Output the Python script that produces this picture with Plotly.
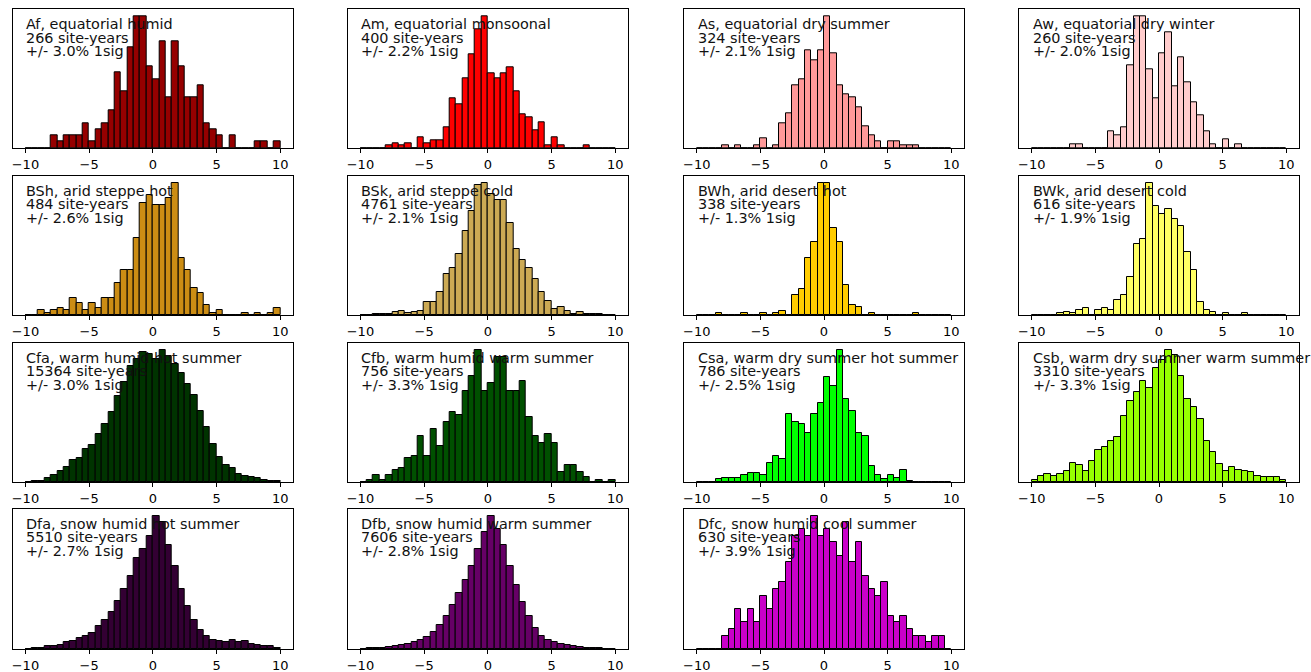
import plotly.graph_objects as go

# Histogram bins: 40 bins of width 0.5 from -10 to 10
BIN_EDGES = [-10 + 0.5 * i for i in range(41)]
TICK_VALS = [-10, -5, 0, 5, 10]
TICK_TEXT = ["\u221210", "\u22125", "0", "5", "10"]

names = ["Af, equatorial humid", "Am, equatorial monsoonal", "As, equatorial dry summer", "Aw, equatorial dry winter",
         "BSh, arid steppe hot", "BSk, arid steppe cold", "BWh, arid desert hot", "BWk, arid desert cold",
         "Cfa, warm humid hot summer", "Cfb, warm humid warm summer", "Csa, warm dry summer hot summer",
         "Csb, warm dry summer warm summer",
         "Dfa, snow humid hot summer", "Dfb, snow humid warm summer", "Dfc, snow humid cool summer"]
site_years = [266, 400, 324, 260, 484, 4761, 338, 616, 15364, 756, 786, 3310, 5510, 7606, 630]
sig = ["3.0", "2.2", "2.1", "2.0", "2.6", "2.1", "1.3", "1.9", "3.0", "3.3", "2.5", "3.3", "2.7", "2.8", "3.9"]
colors = ["#960000", "#FF0000", "#FF9999", "#FFCCCC", "#CC8D14", "#CCAA54", "#FFCC00", "#FFFF64",
          "#003300", "#005000", "#00FF00", "#96FF00", "#330033", "#660066", "#C900C9"]

Af = [0,0,0,0,2,1,2,2,2,4, 1,3,4,6,12,9,16,21,21,13, 11,17,8,17,13,8,8,10,4,3, 2,0,2,0,0,0,1,1,0,1]
Am = [0,0,0,0,1,2,1,2,0,4, 2,3,3,8,19,17,27,36,46,51, 29,27,29,31,22,13,12,7,10,1, 4,1,0,0,0,1,0,0,0,0]
As = [0,0,0,0,1,0,1,0,0,1, 3,0,1,8,11,20,22,31,28,31, 42,30,20,17,16,13,7,4,2,0, 2,2,1,1,1,0,0,0,0,0]
Aw = [0,0,0,0,0,0,1,1,0,0, 0,0,4,3,5,20,32,32,19,12, 23,28,15,22,16,11,8,4,1,0, 2,0,1,0,0,0,0,0,0,0]
BSh = [0,0,2,1,2,3,2,7,5,2, 5,3,7,7,13,18,18,31,45,48, 44,44,47,53,23,18,11,9,4,1, 2,0,0,0,1,0,1,0,1,3]
BSk = [0,0,3,3,5,11,17,9,13,17, 50,50,89,156,180,235,323,398,498,506,
       461,438,438,353,254,210,180,136,89,55, 24,29,14,5,10,4,3,3,1,0]
BWh = [0,0,0,1,0,0,0,1,0,0, 1,0,1,2,0,10,13,29,37,67, 67,44,37,15,5,4,0,1,0,0, 0,0,0,0,1,0,0,0,0,0]
BWk = [0,0,0,0,1,2,1,3,4,0, 3,4,3,9,12,23,43,46,80,66, 61,64,58,54,38,27,8,3,2,0, 1,0,0,1,0,0,0,0,0,0]
Cfa = [0,5,9,28,46,76,106,150,169,227, 255,336,407,486,595,699,810,857,903,891,
       857,921,875,822,759,683,607,493,382,262, 174,120,97,53,44,32,25,14,9,5]
Cfb = [0,1,3,1,3,5,6,10,11,19, 11,22,15,25,29,28,38,44,55,38, 41,52,52,38,38,42,27,19,16,20, 16,4,7,7,4,2,0,1,0,1]
Csa = [0,0,0,2,3,3,3,5,6,6, 5,13,18,16,47,42,40,34,47,55, 73,67,92,58,49,34,32,11,5,2, 5,3,8,1,0,0,0,0,0,0]
Csb = [3,11,15,11,15,21,38,33,21,42, 63,69,81,89,130,159,177,200,185,224,
       240,261,250,209,164,147,124,81,60,35, 21,29,24,21,19,11,9,9,9,3]
Dfa = [0,6,6,11,11,17,28,33,45,56, 67,95,123,156,201,251,307,379,418,474,
       558,530,435,346,251,179,123,78,56,39, 33,28,39,28,33,22,17,11,11,6]
Dfb = [0,4,8,8,12,16,25,33,41,57, 74,106,147,204,270,343,425,507,613,719,
       817,735,637,507,392,286,204,131,82,57, 41,33,25,16,12,8,4,4,0,0]
Dfc = [0,0,0,0,2,3,6,4,6,4, 8,6,9,10,13,17,18,17,20,17, 18,16,14,19,13,16,11,9,8,10, 5,4,5,3,2,2,1,2,2,0]

series = [Af, Am, As, Aw, BSh, BSk, BWh, BWk, Cfa, Cfb, Csa, Csb, Dfa, Dfb, Dfc]

W, H = 1311, 672
col_px = [(12.7, 293.0), (347.7, 628.0), (684.0, 964.0), (1019.0, 1299.0)]
row_px = [(9.3, 148.0), (176.0, 315.0), (343.0, 482.0), (509.0, 649.0)]

centers = [(BIN_EDGES[i] + BIN_EDGES[i + 1]) / 2 for i in range(40)]
bw = BIN_EDGES[1] - BIN_EDGES[0]

fig = go.Figure()
layout = dict(width=W, height=H, margin=dict(l=0, r=0, t=0, b=0), plot_bgcolor="white",
              paper_bgcolor="white", showlegend=False, bargap=0,
              font=dict(family="DejaVu Sans", size=13, color="black"))
annotations = []
font_txt = dict(family="DejaVu Sans", size=14.4, color="#111111")

for i, vals in enumerate(series):
    n = i + 1
    r, c = divmod(i, 4)
    x0, x1 = col_px[c]
    y0, y1 = row_px[r]
    xa = "xaxis" if n == 1 else f"xaxis{n}"
    ya = "yaxis" if n == 1 else f"yaxis{n}"
    xr = "x" if n == 1 else f"x{n}"
    yr = "y" if n == 1 else f"y{n}"
    fig.add_trace(go.Bar(x=centers, y=vals, width=bw, xaxis=xr, yaxis=yr,
                         marker=dict(color=colors[i], line=dict(color="black", width=1))))
    layout[xa] = dict(domain=[x0 / W, x1 / W], anchor=yr, range=[-11, 11],
                      tickvals=TICK_VALS, ticktext=TICK_TEXT, ticks="outside", ticklen=4,
                      tickwidth=1, tickcolor="black", showline=True, mirror=True,
                      linecolor="black", linewidth=1, showgrid=False, zeroline=False,
                      tickfont=dict(family="DejaVu Sans", size=13, color="black"))
    layout[ya] = dict(domain=[1 - y1 / H, 1 - y0 / H], anchor=xr, range=[0, 1.05 * max(vals)],
                      showticklabels=False, ticks="", showline=True, mirror=True,
                      linecolor="black", linewidth=1, showgrid=False, zeroline=False)
    lines = [names[i], f"{site_years[i]} site-years", f"+/- {sig[i]}% 1sig"]
    hpx = y1 - y0
    for j, t in enumerate(lines):
        annotations.append(dict(text=t, x=-10, xref=xr, xanchor="left",
                                y=1 - (6 + 13.3 * j) / hpx, yref=f"{yr} domain", yanchor="top",
                                showarrow=False, font=font_txt, borderpad=0))

layout["annotations"] = annotations
fig.update_layout(**layout)
fig.write_html("out.html", config={"displayModeBar": False},
               post_script="document.body.style.margin='0';")
